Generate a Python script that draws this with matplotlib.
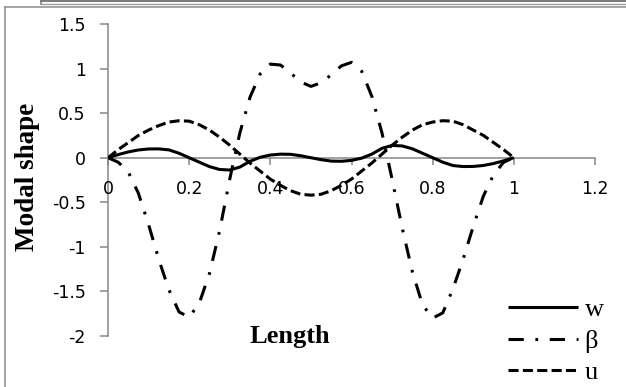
import matplotlib
matplotlib.use("Agg")
import matplotlib.pyplot as plt
from matplotlib.lines import Line2D

# Position along the member (normalised length)
length = [0.0, 0.025, 0.05, 0.075, 0.1, 0.125, 0.15, 0.175, 0.2, 0.225,
          0.25, 0.275, 0.3, 0.325, 0.35, 0.375, 0.4, 0.425, 0.45, 0.475,
          0.5, 0.525, 0.55, 0.575, 0.6, 0.625, 0.65, 0.675, 0.7, 0.725,
          0.75, 0.775, 0.8, 0.825, 0.85, 0.875, 0.9, 0.925, 0.95, 0.975, 1.0]

# Modal shape components
w = [0.0, 0.035, 0.065, 0.087, 0.098, 0.099, 0.088, 0.05, 0.0, -0.05,
     -0.10, -0.132, -0.138, -0.105, -0.04, 0.005, 0.03, 0.04, 0.038, 0.022,
     0.0, -0.022, -0.038, -0.04, -0.03, -0.005, 0.04, 0.105, 0.138, 0.132,
     0.10, 0.05, 0.0, -0.05, -0.088, -0.099, -0.098, -0.087, -0.065, -0.035, 0.0]

beta = [0.0, -0.05, -0.16, -0.40, -0.75, -1.14, -1.48, -1.73, -1.79, -1.63,
        -1.30, -0.82, -0.24, 0.28, 0.68, 0.94, 1.05, 1.04, 0.95, 0.85,
        0.80, 0.84, 0.93, 1.03, 1.07, 0.97, 0.69, 0.28, -0.24, -0.79,
        -1.28, -1.65, -1.80, -1.74, -1.47, -1.14, -0.77, -0.43, -0.19, -0.05, 0.0]

u = [0.0, 0.09, 0.17, 0.25, 0.31, 0.36, 0.40, 0.415, 0.41, 0.37,
     0.31, 0.23, 0.14, 0.04, -0.06, -0.15, -0.24, -0.31, -0.37, -0.41,
     -0.42, -0.41, -0.37, -0.31, -0.24, -0.15, -0.06, 0.04, 0.14, 0.23,
     0.31, 0.37, 0.40, 0.415, 0.41, 0.37, 0.31, 0.25, 0.17, 0.09, 0.0]

series_labels = ["w", "\u03b2", "u"]

x_ticks = [0, 0.2, 0.4, 0.6, 0.8, 1.0, 1.2]
x_tick_labels = ["0", "0.2", "0.4", "0.6", "0.8", "1", "1.2"]
y_ticks = [-2, -1.5, -1, -0.5, 0, 0.5, 1, 1.5]
y_tick_labels = ["-2", "-1.5", "-1", "-0.5", "0", "0.5", "1", "1.5"]

W, H = 626, 387
axis_grey = "#868686"

fig = plt.figure(figsize=(W / 100, H / 100), dpi=100)
ax = fig.add_axes([108 / W, 51 / H, 487 / W, 312 / H])

lw = 2.2
ax.plot(length, w, color="black", lw=lw, solid_capstyle="butt",
        label=series_labels[0], zorder=3)
ax.plot(length, beta, color="black", lw=lw, ls=(0, (5, 3.8, 0.9, 3.8)),
        label=series_labels[1], zorder=3)
ax.plot(length, u, color="black", lw=lw, ls=(0, (3.3, 1.4)),
        label=series_labels[2], zorder=3)

ax.set_xlim(0, 1.2)
ax.set_ylim(-2, 1.5)

for side in ("top", "right"):
    ax.spines[side].set_visible(False)
ax.spines["bottom"].set_position(("data", 0))
for side in ("left", "bottom"):
    ax.spines[side].set_color(axis_grey)
    ax.spines[side].set_linewidth(1.1)
    ax.spines[side].set_zorder(1)

ax.set_xticks(x_ticks)
ax.set_xticklabels(x_tick_labels)
ax.set_yticks(y_ticks)
ax.set_yticklabels(y_tick_labels)
ax.tick_params(axis="x", direction="out", length=5, width=1.1, color=axis_grey,
               pad=11, labelsize=12.5)
ax.tick_params(axis="y", direction="out", length=5.5, width=1.1, color=axis_grey,
               pad=10.5, labelsize=12.5)
for lab in ax.get_xticklabels() + ax.get_yticklabels():
    lab.set_family("DejaVu Sans")

ax.set_xlabel("Length", family="Liberation Serif", fontweight="bold", fontsize=19)
ax.xaxis.set_label_coords(0.374, -0.003)
ax.xaxis.label.set_va("center")
ax.set_ylabel("Modal shape", family="Liberation Serif", fontweight="bold", fontsize=19.5)
ax.yaxis.set_label_coords(-0.166, 0.51)
ax.yaxis.label.set_va("center")

leg = ax.legend(loc="center left", bbox_to_anchor=(508 / W, 1 - 341 / H),
                bbox_transform=fig.transFigure, frameon=False,
                prop=dict(family="Liberation Serif", size=19),
                handlelength=2.65, handletextpad=0.25, labelspacing=0.3,
                borderpad=0, borderaxespad=0)

# chart-area frame and the edge of the box above it
def fig_line(xs, ys, color, width):
    fig.add_artist(Line2D([x / W for x in xs], [1 - y / H for y in ys],
                          transform=fig.transFigure, color=color, lw=width))

fig_line([5, 5], [7, H], "#8c8c8c", 1.1)
fig_line([5, W], [7, 7], "#8c8c8c", 1.1)
fig_line([41, W], [0.8, 0.8], "#7a7a7a", 1.4)
fig_line([41, W], [3.6, 3.6], "#a0a0a0", 1.0)
fig_line([41, 41], [0, 4], "#7a7a7a", 1.1)

fig.savefig("out.png", dpi=100)
